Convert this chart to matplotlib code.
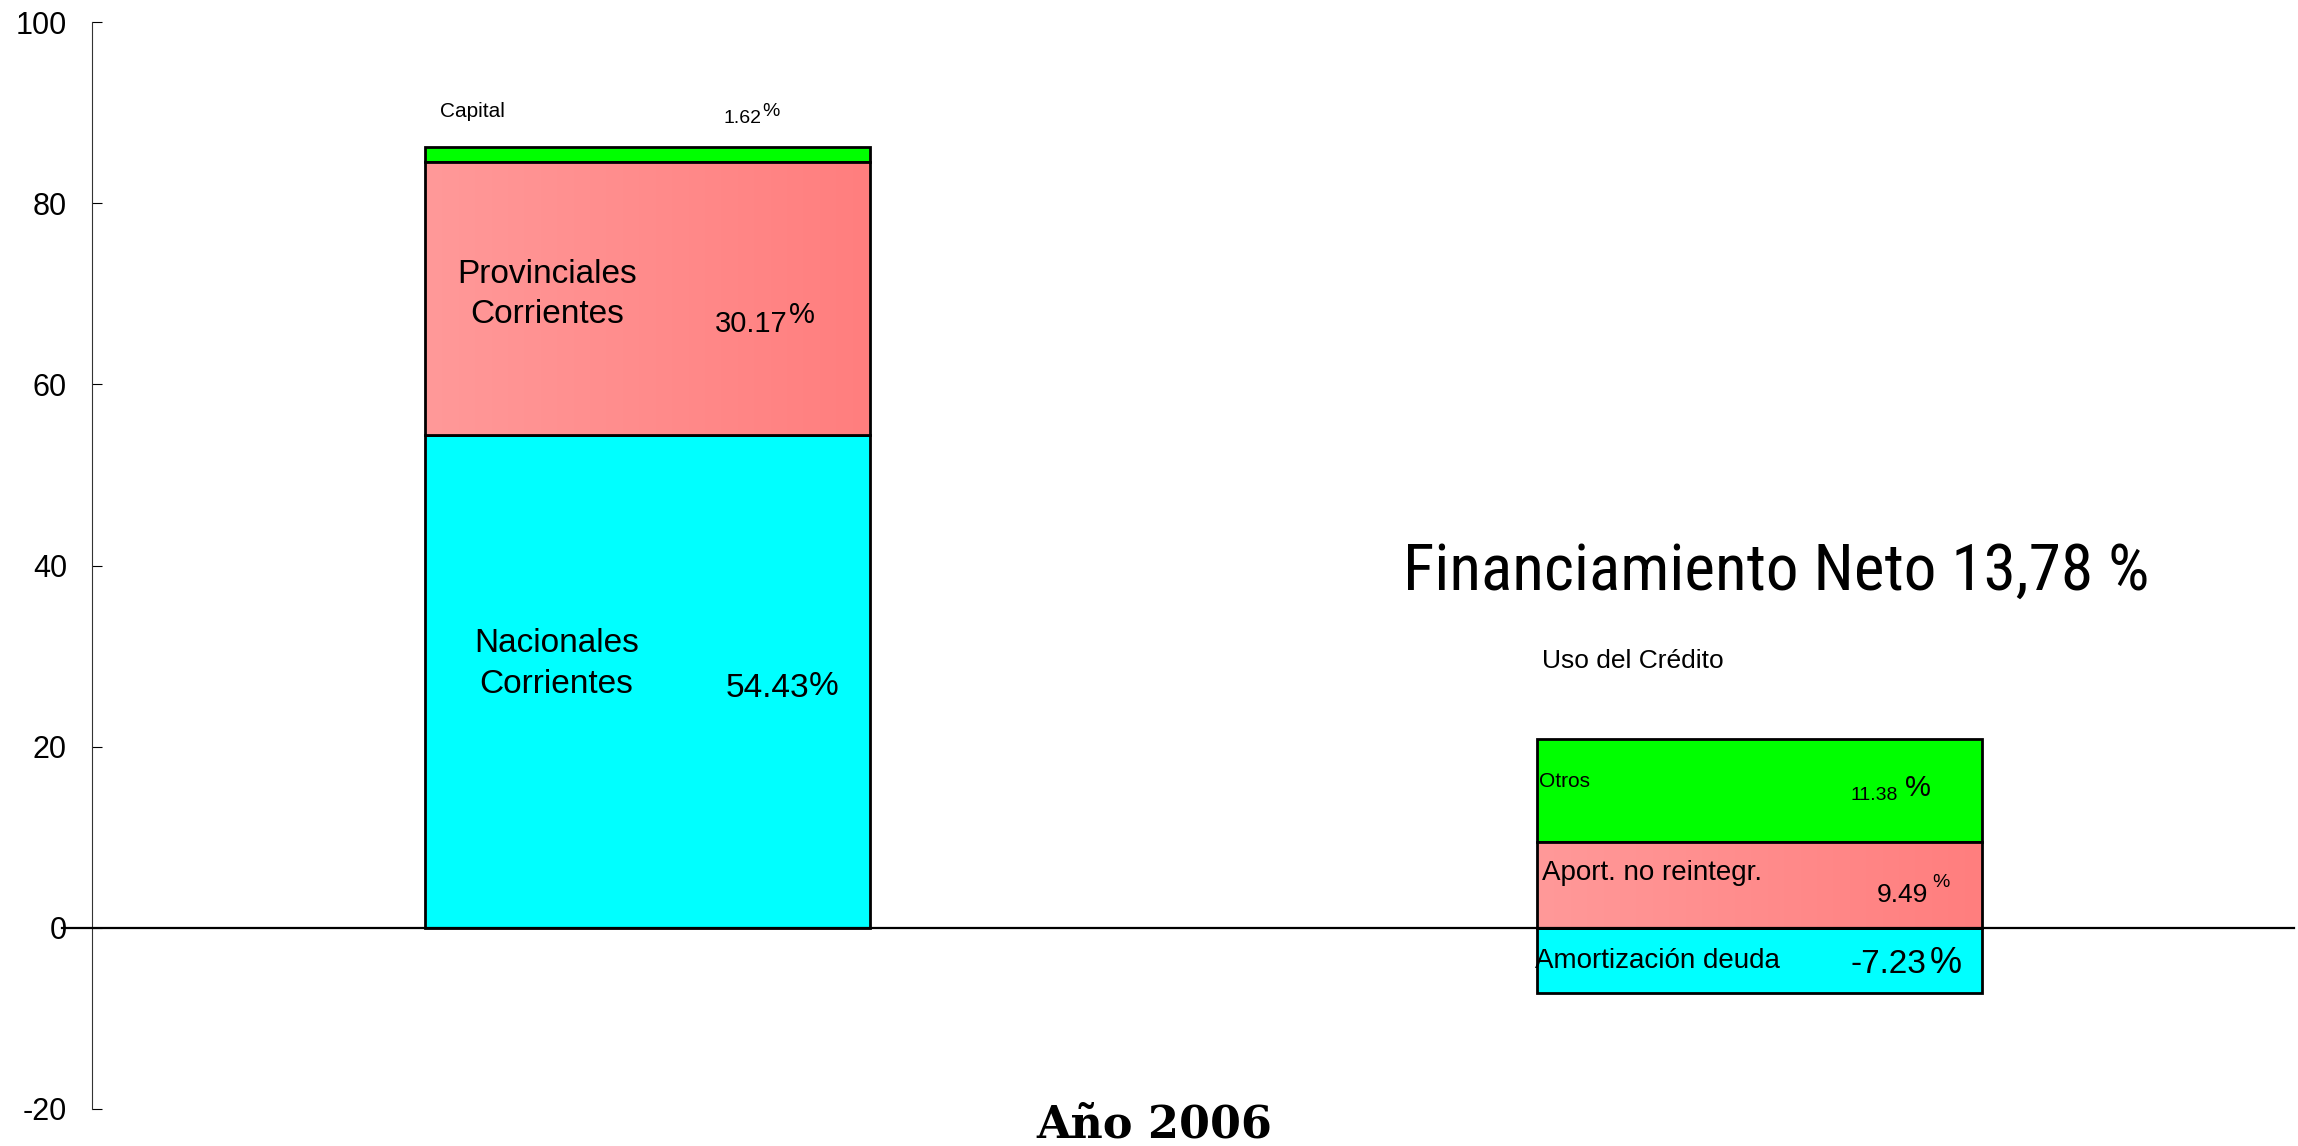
import numpy as np
import matplotlib
matplotlib.use("Agg")
import matplotlib.pyplot as plt

# data
groups = ["Recursos", "Uso del Crédito"]
cyan_vals = [54.43, -7.23]     # Nacionales Corrientes / Amortización deuda
pink_vals = [30.17, 9.49]      # Provinciales Corrientes / Aport. no reintegr.
green_vals = [1.62, 11.38]     # Capital / Otros
yticks = [-20, 0, 20, 40, 60, 80, 100]

CYAN = "#00FFFF"
GREEN = "#00FF00"
PINK_L = np.array([255, 153, 153]) / 255.0
PINK_R = np.array([255, 126, 126]) / 255.0
SANS = "Liberation Sans"

plt.rcParams["font.family"] = [SANS, "DejaVu Sans"]
plt.rcParams["axes.unicode_minus"] = False

fig = plt.figure(figsize=(22.98, 11.46), dpi=100)
ax = fig.add_axes([0.04003, 0.03229, 0.9582, 0.9485])

x = np.arange(len(groups))
w = 0.40
pink_bottom = [max(v, 0) for v in cyan_vals]
green_bottom = [b + p for b, p in zip(pink_bottom, pink_vals)]

ax.bar(x, cyan_vals, w, color=CYAN, edgecolor="black", linewidth=2, zorder=2)
pink = ax.bar(x, pink_vals, w, bottom=pink_bottom, color=PINK_R,
              edgecolor="black", linewidth=2, zorder=2)
ax.bar(x, green_vals, w, bottom=green_bottom, color=GREEN,
       edgecolor="black", linewidth=2, zorder=2)

# horizontal gradient inside the pink segments
grad = np.linspace(0, 1, 256)
grad_img = PINK_L[None, :] * (1 - grad[:, None]) + PINK_R[None, :] * grad[:, None]
grad_img = grad_img[None, :, :]
for p in pink.patches:
    x0, y0 = p.get_x(), p.get_y()
    im = ax.imshow(grad_img, extent=[x0, x0 + p.get_width(), y0, y0 + p.get_height()],
                   aspect="auto", zorder=2.1, interpolation="bilinear")
    im.set_clip_path(p)
    p.set_facecolor("none")
    p.set_zorder(2.2)

ax.set_xlim(-0.5, 1.481)
ax.set_ylim(-20, 100)
ax.set_yticks(yticks)
ax.set_xticks([])
for s in ["top", "right", "bottom"]:
    ax.spines[s].set_visible(False)
ax.spines["left"].set_linewidth(0.8)
ax.spines["left"].set_color("#333333")
ax.tick_params(axis="y", direction="in", length=7, width=0.8, pad=18,
               labelsize=22, colors="black")

ax.axhline(0, xmin=-0.0136, xmax=1.0, color="black", lw=1.6, zorder=3, clip_on=False)

def t(xx, yy, s, size, **kw):
    ax.text(xx, yy, s, fontsize=size, va="baseline", zorder=5, **kw)

# bar 1 labels
t(-0.187, 89.5, "Capital", 15)
t(0.0677, 88.8, "1.62", 14)
t(0.1028, 89.6, "%", 14)
t(-0.0906, 71.2, "Provinciales", 24, ha="center")
t(-0.0906, 66.8, "Corrientes", 24, ha="center")
t(0.0605, 65.8, "30.17", 21)
t(0.1270, 66.8, "%", 21)
t(-0.082, 30.5, "Nacionales", 24, ha="center")
t(-0.082, 25.9, "Corrientes", 24, ha="center")
t(0.0704, 25.5, "54.43", 24)
t(0.1450, 25.7, "%", 24)

# bar 2 labels
t(0.8045, 28.7, "Uso del Crédito", 19)
t(0.802, 15.6, "Otros", 15)
t(1.0817, 14.1, "11.38", 14)
t(1.131, 14.6, "%", 21)
t(0.8045, 5.3, "Aport. no reintegr.", 20)
t(1.106, 2.9, "9.49", 19)
t(1.1554, 4.5, "%", 14)
t(0.798, -4.4, "Amortización deuda", 20)
t(1.0817, -5.0, "-7.23", 24)
t(1.153, -5.0, "%", 26)

ax.text(0.6795, 37.3, "Financiamiento Neto 13,78 %", fontsize=47, va="baseline",
        family=["Liberation Sans Narrow", "Roboto Condensed", "Noto Sans"],
        fontstretch="condensed")

ax.text(0.456, -23.1, "Año 2006", fontsize=32, fontweight="bold", ha="center",
        va="baseline", family=["DejaVu Serif"], clip_on=False)

fig.savefig("out.png", dpi=100)
